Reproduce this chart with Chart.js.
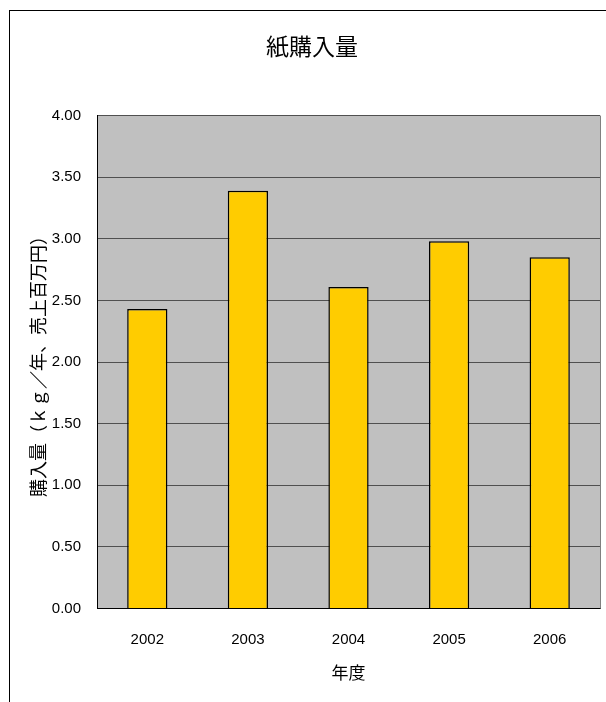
<!DOCTYPE html>
<html lang="ja">
<head>
  <meta charset="UTF-8">
  <title>紙購入量</title>
  <script src="https://cdn.jsdelivr.net/npm/chart.js"></script>
  <style>
    html, body { margin: 0; padding: 0; background: #fff; }
    #wrap { position: relative; width: 606px; height: 702px; overflow: hidden; }
    #frame { position: absolute; left: 9px; top: 10px; width: 700px; height: 800px;
             border-left: 1px solid #000; border-top: 1px solid #000; }
    canvas { position: absolute; left: 0; top: 0; }
  </style>
</head>
<body>
  <div id="wrap">
    <div id="frame"></div>
    <canvas id="paperChart" width="606" height="702"></canvas>
  </div>

  <script>
    // data
    const years = ['2002', '2003', '2004', '2005', '2006'];
    const purchase = [2.43, 3.39, 2.61, 2.98, 2.85];
    const yTicks = [0, 0.5, 1, 1.5, 2, 2.5, 3, 3.5, 4];

    const numFont = "'Liberation Sans', Arial, sans-serif";
    const jpFont = "'Noto Sans CJK JP', sans-serif";

    // grey plot area with a thin frame on the right
    const plotArea = {
      id: 'plotArea',
      beforeDraw(chart) {
        const { ctx, chartArea: a } = chart;
        ctx.save();
        ctx.fillStyle = '#c0c0c0';
        ctx.fillRect(a.left, a.top, a.right - a.left, a.bottom - a.top);
        ctx.restore();
      },
      afterDraw(chart) {
        const { ctx, chartArea: a } = chart;
        ctx.save();
        ctx.strokeStyle = '#808080';
        ctx.lineWidth = 1;
        ctx.beginPath();
        ctx.moveTo(a.right + 0.5, a.top);
        ctx.lineTo(a.right + 0.5, a.bottom);
        ctx.stroke();
        ctx.restore();
      }
    };

    new Chart(document.getElementById('paperChart'), {
      type: 'bar',
      data: {
        labels: years,
        datasets: [{
          label: '購入量',
          data: purchase,
          backgroundColor: '#ffcc00',
          borderColor: '#000000',
          borderWidth: 1.5,
          barPercentage: 0.4,
          categoryPercentage: 1
        }]
      },
      options: {
        responsive: false,
        animation: false,
        devicePixelRatio: 1,
        layout: { padding: { left: 24, right: 6, top: 20, bottom: 15 } },
        plugins: {
          legend: { display: false },
          tooltip: { enabled: false },
          title: {
            display: true,
            text: '紙購入量',
            color: '#000',
            font: { family: jpFont, size: 23, weight: 'normal' },
            padding: { top: 12, bottom: 56 }
          }
        },
        scales: {
          x: {
            grid: { display: false },
            border: { color: '#000', width: 1 },
            ticks: { color: '#000', font: { family: numFont, size: 15 }, padding: 14 },
            title: {
              display: true,
              text: '年度',
              color: '#000',
              font: { family: jpFont, size: 17 },
              padding: { top: 0 }
            }
          },
          y: {
            min: 0,
            max: 4,
            afterBuildTicks(scale) {
              scale.ticks = yTicks.map(v => ({ value: v }));
            },
            afterFit(scale) {
              scale.width = 73;
            },
            grid: { color: '#505050', lineWidth: 1, drawTicks: false },
            border: { color: '#000', width: 1 },
            ticks: {
              color: '#000',
              font: { family: numFont, size: 15 },
              padding: 16,
              callback: v => Number(v).toFixed(2)
            },
            title: {
              display: true,
              text: '購入量（ｋｇ／年、売上百万円）',
              color: '#000',
              font: { family: jpFont, size: 18 },
              padding: { top: 3, bottom: 0 }
            }
          }
        }
      },
      plugins: [plotArea]
    });
  </script>
</body>
</html>
